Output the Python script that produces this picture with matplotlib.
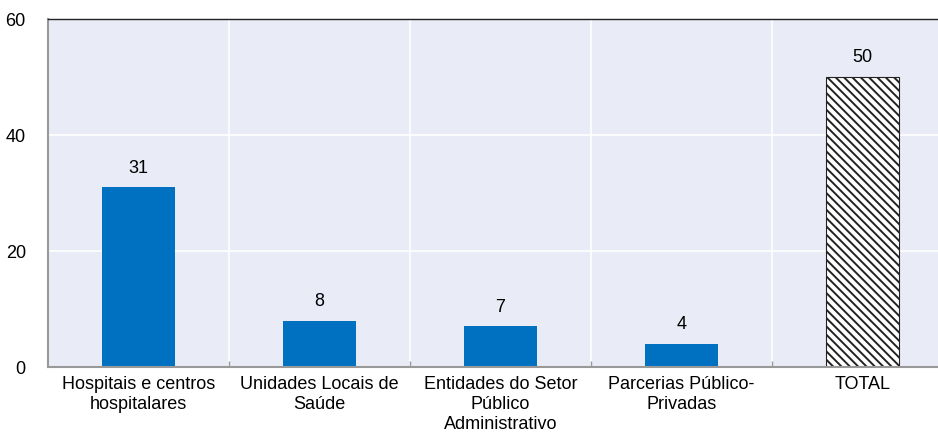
import matplotlib
matplotlib.use("Agg")
import matplotlib.pyplot as plt
import numpy as np

categories = ["Hospitais e centros\nhospitalares", "Unidades Locais de\nSaúde",
              "Entidades do Setor\nPúblico\nAdministrativo", "Parcerias Público-\nPrivadas", "TOTAL"]
values = [31, 8, 7, 4, 50]
yticks = [0, 20, 40, 60]

plt.rcParams['font.family'] = ['Liberation Sans', 'DejaVu Sans']
plt.rcParams['hatch.linewidth'] = 1.4

FS = 13

fig = plt.figure(figsize=(9.38, 4.39), dpi=100)
ax = fig.add_axes([48/938, 1-368/439, 905/938, 348/439])
ax.set_facecolor('#e9ecf6')

x = np.arange(len(categories))
for i, (xi, v) in enumerate(zip(x, values)):
    if categories[i] == "TOTAL":
        ax.bar(xi, v, width=0.4, facecolor='white', edgecolor='#222222', hatch='\\\\\\\\', linewidth=0.8, zorder=2)
    else:
        ax.bar(xi, v, width=0.4, color='#0070c0', zorder=2)
    ax.text(xi, v + 2.0, f"{v}", ha='center', va='bottom', fontsize=FS, color='black')

ax.set_xlim(-0.5, len(categories) - 0.5)
ax.set_ylim(0, 60)
ax.set_yticks(yticks)
ax.set_yticklabels([str(t) for t in yticks], fontsize=FS)
ax.tick_params(axis='y', length=0, pad=16)

ax.set_xticks(x)
ax.set_xticklabels(categories, fontsize=FS, linespacing=1.22)
ax.tick_params(axis='x', length=0, pad=6)
ax.set_xticks(np.arange(len(categories) - 1) + 0.5, minor=True)
ax.tick_params(axis='x', which='minor', length=4, direction='in', color='#999999', width=1)

ax.grid(axis='y', color='white', linewidth=1.2, zorder=1)
ax.grid(axis='x', which='minor', color='white', linewidth=1.2, zorder=1)
ax.grid(axis='x', which='major', visible=False)
ax.set_axisbelow(True)

ax.spines['right'].set_visible(False)
ax.spines['top'].set_color('#222222')
ax.spines['top'].set_linewidth(1.0)
ax.spines['left'].set_color('#999999')
ax.spines['left'].set_linewidth(1.5)
ax.spines['bottom'].set_color('#999999')
ax.spines['bottom'].set_linewidth(1.5)

fig.savefig("out.png", dpi=100)
